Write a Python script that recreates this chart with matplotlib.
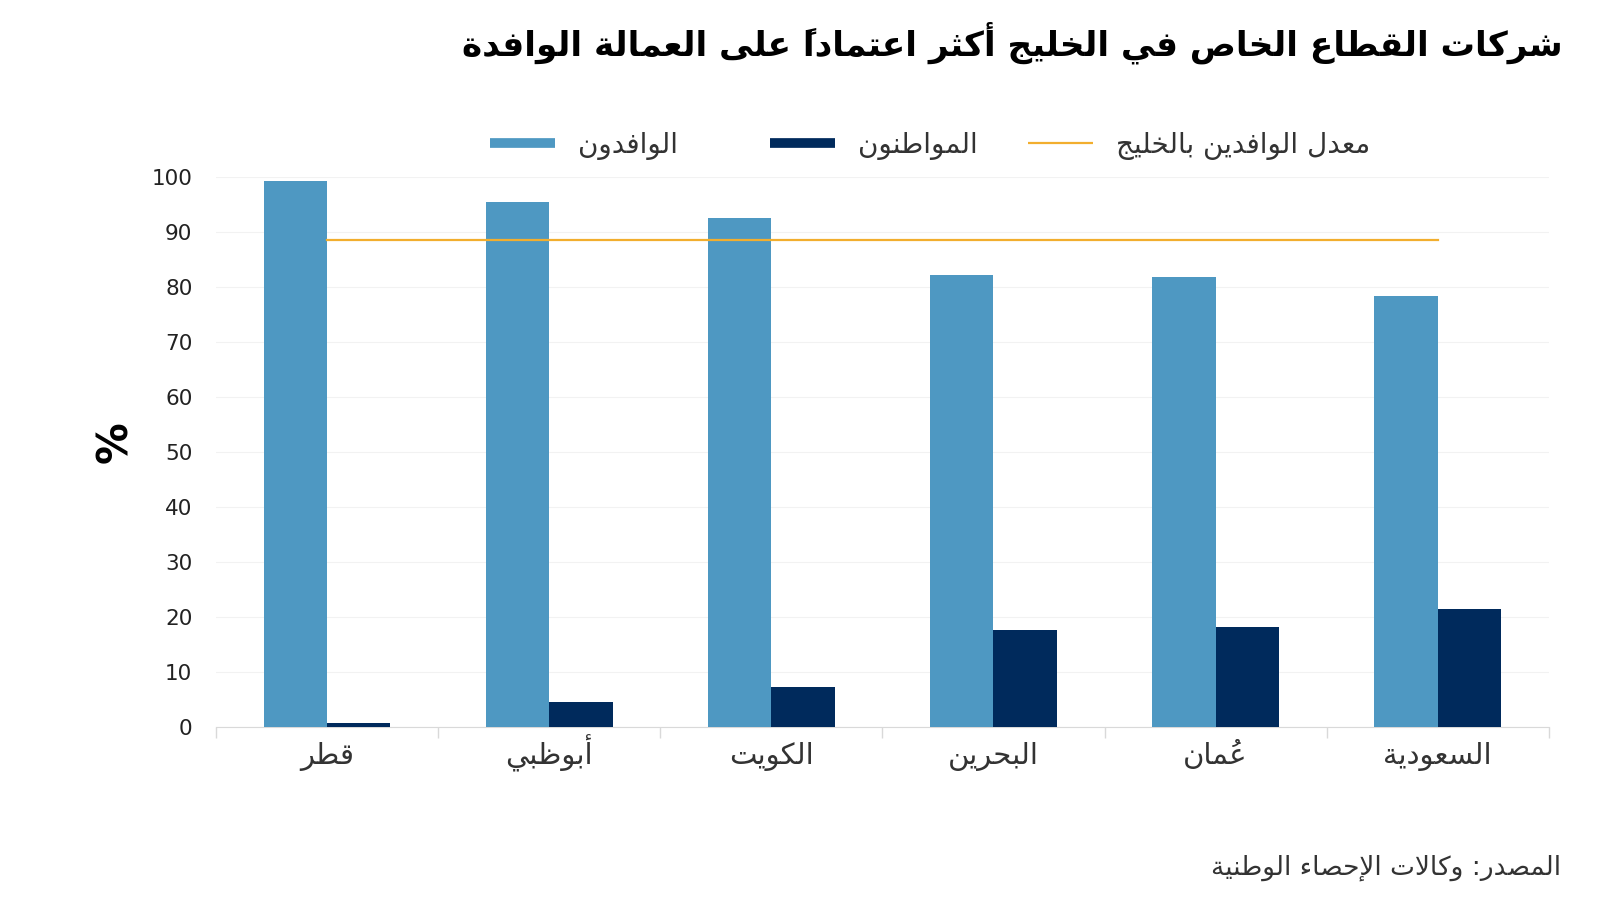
import matplotlib
matplotlib.use("Agg")
import matplotlib.pyplot as plt
from matplotlib.lines import Line2D
import numpy as np

# البيانات
countries = ['قطر', 'أبوظبي', 'الكويت', 'البحرين', 'عُمان', 'السعودية']
expats = [99.4, 95.5, 92.6, 82.3, 81.8, 78.3]
nationals = [0.7, 4.5, 7.2, 17.5, 18.2, 21.4]
gulf_avg = 88.5
yticks = [0, 10, 20, 30, 40, 50, 60, 70, 80, 90, 100]

title = 'شركات القطاع الخاص في الخليج أكثر اعتماداً على العمالة الوافدة'
lbl_expats = 'الوافدون'
lbl_nationals = 'المواطنون'
lbl_avg = 'معدل الوافدين بالخليج'
source = 'المصدر: وكالات الإحصاء الوطنية'

# matplotlib لا يقوم بتشكيل الحروف العربية، فنحولها لأشكال العرض يدوياً
FORMS = {
    'ء': (0xFE80, 1), 'آ': (0xFE81, 2), 'أ': (0xFE83, 2), 'ؤ': (0xFE85, 2), 'إ': (0xFE87, 2),
    'ئ': (0xFE89, 4), 'ا': (0xFE8D, 2), 'ب': (0xFE8F, 4), 'ة': (0xFE93, 2), 'ت': (0xFE95, 4),
    'ث': (0xFE99, 4), 'ج': (0xFE9D, 4), 'ح': (0xFEA1, 4), 'خ': (0xFEA5, 4), 'د': (0xFEA9, 2),
    'ذ': (0xFEAB, 2), 'ر': (0xFEAD, 2), 'ز': (0xFEAF, 2), 'س': (0xFEB1, 4), 'ش': (0xFEB5, 4),
    'ص': (0xFEB9, 4), 'ض': (0xFEBD, 4), 'ط': (0xFEC1, 4), 'ظ': (0xFEC5, 4), 'ع': (0xFEC9, 4),
    'غ': (0xFECD, 4), 'ف': (0xFED1, 4), 'ق': (0xFED5, 4), 'ك': (0xFED9, 4), 'ل': (0xFEDD, 4),
    'م': (0xFEE1, 4), 'ن': (0xFEE5, 4), 'ه': (0xFEE9, 4), 'و': (0xFEED, 2), 'ى': (0xFEEF, 2),
    'ي': (0xFEF1, 4),
    '\uFEF5': (0xFEF5, 2), '\uFEF7': (0xFEF7, 2), '\uFEF9': (0xFEF9, 2), '\uFEFB': (0xFEFB, 2),
}
LAM_ALEF = {'آ': '\uFEF5', 'أ': '\uFEF7', 'إ': '\uFEF9', 'ا': '\uFEFB'}


def ar(text):
    chars = []
    i = 0
    while i < len(text):
        c = text[i]
        if c == 'ل' and i + 1 < len(text) and text[i + 1] in LAM_ALEF:
            chars.append(LAM_ALEF[text[i + 1]])
            i += 2
            continue
        chars.append(c)
        i += 1
    clusters = []
    for c in chars:
        if '\u064B' <= c <= '\u0652' and clusters:
            clusters[-1][1].append(c)
        else:
            clusters.append([c, []])
    out = []
    for k, (c, marks) in enumerate(clusters):
        if c in FORMS:
            start, n = FORMS[c]
            prev = clusters[k - 1][0] if k > 0 else None
            nxt = clusters[k + 1][0] if k + 1 < len(clusters) else None
            join_prev = prev in FORMS and FORMS[prev][1] == 4
            join_next = n == 4 and nxt in FORMS
            if join_prev and join_next:
                form = 3
            elif join_next:
                form = 2
            elif join_prev and n > 1:
                form = 1
            else:
                form = 0
            c = chr(start + form)
        # الحركة (بعرض صفري) تُرسم يمين القلم، فتوضع قبل حرفها في الترتيب المرئي
        out.append(''.join(marks) + c)
    return ''.join(reversed(out))


c_exp = '#4E98C2'
c_nat = '#002A5C'
c_avg = '#F2AE2E'

plt.rcParams['font.family'] = ['DejaVu Sans']

fig = plt.figure(figsize=(16, 9), dpi=100)
ax = fig.add_axes([0.135, 0.1927, 0.833, 0.6103])

x = np.arange(len(countries))
w = 0.285
ax.bar(x - w / 2, expats, width=w, color=c_exp, zorder=3)
ax.bar(x + w / 2, nationals, width=w, color=c_nat, zorder=3)
ax.plot([x[0], x[-1]], [gulf_avg, gulf_avg], color=c_avg, lw=1.6, zorder=4)

ax.set_xlim(-0.5, len(countries) - 0.5)
ax.set_ylim(0, 100)
ax.set_yticks(yticks)
ax.set_yticklabels([str(v) for v in yticks], fontsize=15.5, color='#222222')
ax.tick_params(axis='y', length=0, pad=17)
ax.set_xticks(x)
ax.set_xticklabels([ar(c) for c in countries], fontsize=21, color='#333333')
for lab in ax.get_xticklabels():
    lab.set_va('baseline')
ax.tick_params(axis='x', length=0, pad=27)
ax.set_xticks(np.arange(-0.5, len(countries)), minor=True)
ax.tick_params(axis='x', which='minor', length=8, color='#d9d9d9', width=1)
ax.grid(axis='y', color='#f2f2f2', lw=0.8, zorder=0)
for s in ['top', 'right', 'left']:
    ax.spines[s].set_visible(False)
ax.spines['bottom'].set_color('#d9d9d9')

fig.text(115 / 1600, 1 - 442 / 900, '%', rotation=90, fontsize=30, fontweight='bold',
         ha='center', va='center')

fig.text(1563 / 1600, 1 - 43 / 900, ar(title), fontsize=24.7, fontweight='bold',
         ha='right', va='center')

# مفتاح الرسم: كل عنصر على حدة لأن المسافات بينها غير متساوية في الأصل
items = [
    (Line2D([], [], color=c_exp, lw=7, solid_capstyle='butt'), lbl_expats, 490),
    (Line2D([], [], color=c_nat, lw=7, solid_capstyle='butt'), lbl_nationals, 770),
    (Line2D([], [], color=c_avg, lw=1.6, solid_capstyle='butt'), lbl_avg, 1028),
]
for h, lbl, xpos in items:
    fig.legend([h], [ar(lbl)], loc='center left',
               bbox_to_anchor=(xpos / 1600, 1 - 145 / 900),
               frameon=False, fontsize=20, handlelength=2.35, handletextpad=0.8,
               borderpad=0, borderaxespad=0, labelcolor='#333333')

fig.text(1561 / 1600, 1 - 868 / 900, ar(source), fontsize=19, color='#333333',
         ha='right', va='center')

fig.savefig('out.png', dpi=100)
